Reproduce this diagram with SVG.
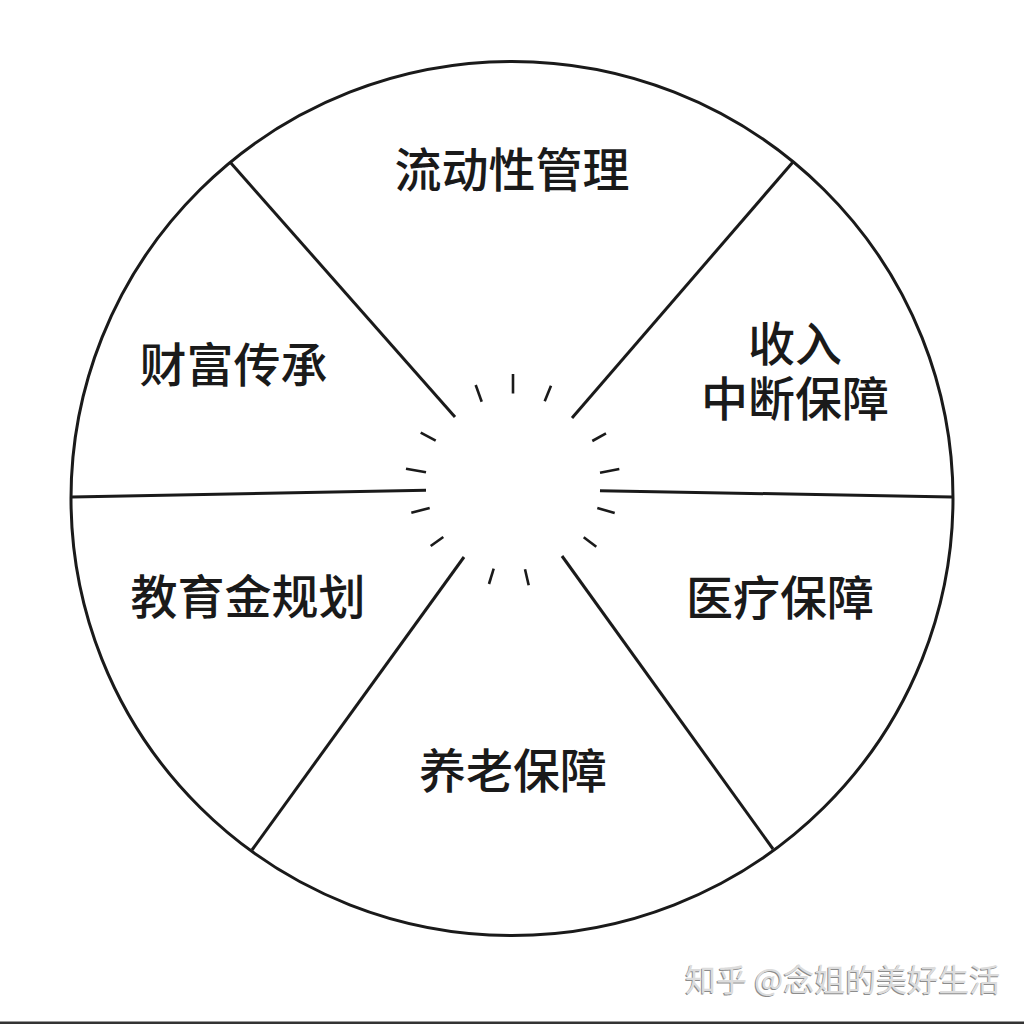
<svg xmlns="http://www.w3.org/2000/svg" width="1024" height="1024" viewBox="0 0 1024 1024">
  <style>
    .ln { stroke: #1a1a1a; stroke-width: 3; fill: none; stroke-linecap: butt; }
    .tick { stroke: #1a1a1a; stroke-width: 2.6; stroke-linecap: butt; }
    .lbl { font-family: "Noto Sans CJK SC", "Noto Sans", sans-serif; font-size: 47px; font-weight: 500; fill: #1a1a1a; text-anchor: middle; dominant-baseline: central; }
    .wm { font-family: "Noto Sans CJK SC", "Noto Sans", sans-serif; font-size: 31px; font-weight: 400; }
  </style>
  <rect width="1024" height="1024" fill="#ffffff"/>
  <g id="wheel">
    <ellipse class="ln" cx="512" cy="498.5" rx="441" ry="437"/>
  </g>
  <g id="connectors">
    <line class="ln" x1="230" y1="162" x2="455" y2="417"/>
    <line class="ln" x1="793" y1="162" x2="572" y2="418"/>
    <line class="ln" x1="72" y1="497" x2="426" y2="490.3"/>
    <line class="ln" x1="600" y1="490.7" x2="952" y2="497"/>
    <line class="ln" x1="252" y1="850" x2="464" y2="557"/>
    <line class="ln" x1="773" y1="849" x2="562" y2="556"/>
  </g>
  <g id="burst">
    <line class="tick" x1="513" y1="374" x2="513" y2="393.5"/>
    <line class="tick" x1="475.7" y1="385" x2="481.7" y2="401.7"/>
    <line class="tick" x1="551" y1="385.7" x2="544.7" y2="401.3"/>
    <line class="tick" x1="420.7" y1="432.7" x2="435.7" y2="440.7"/>
    <line class="tick" x1="606" y1="433.3" x2="592.3" y2="441"/>
    <line class="tick" x1="406" y1="468.7" x2="426" y2="472.3"/>
    <line class="tick" x1="619.3" y1="469" x2="600" y2="472.7"/>
    <line class="tick" x1="411.3" y1="512.7" x2="429.7" y2="508"/>
    <line class="tick" x1="597.3" y1="508" x2="614.7" y2="513"/>
    <line class="tick" x1="430.7" y1="546" x2="443.3" y2="537"/>
    <line class="tick" x1="583.7" y1="537.3" x2="596.3" y2="546.7"/>
    <line class="tick" x1="489" y1="584" x2="493.7" y2="568.7"/>
    <line class="tick" x1="525" y1="569.3" x2="528.7" y2="585.3"/>
  </g>
  <g id="node-liquidity">
    <text class="lbl" x="512" y="166">流动性管理</text>
  </g>
  <g id="node-wealth">
    <text class="lbl" x="233.5" y="361">财富传承</text>
  </g>
  <g id="node-income">
    <text class="lbl"><tspan x="795" y="339.5">收入</tspan><tspan x="795" y="395">中断保障</tspan></text>
  </g>
  <g id="node-education">
    <text class="lbl" x="248" y="593">教育金规划</text>
  </g>
  <g id="node-medical">
    <text class="lbl" x="780" y="594">医疗保障</text>
  </g>
  <g id="node-pension">
    <text class="lbl" x="513" y="767.5">养老保障</text>
  </g>
  <g id="watermark">
    <text class="wm" x="684" y="992" fill="#8c8c8c">知乎 @念姐的美好生活</text>
    <text class="wm" x="685" y="991" fill="#dcdcdc">知乎 @念姐的美好生活</text>
  </g>
  <rect x="0" y="1021.5" width="1024" height="2.5" fill="#333333"/>
</svg>
